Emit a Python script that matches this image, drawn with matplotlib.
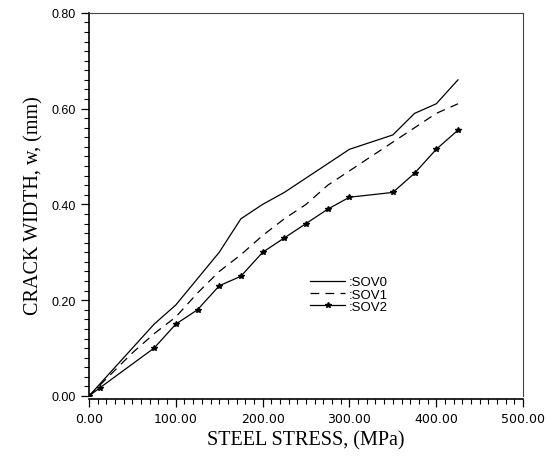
import matplotlib
matplotlib.use("Agg")
import matplotlib.pyplot as plt
from matplotlib.ticker import MultipleLocator, FormatStrFormatter

sov0_x = [0, 25, 50, 75, 100, 125, 150, 175, 200, 225, 250, 275, 300, 350, 375, 400, 425]
sov0_y = [0, 0.05, 0.10, 0.15, 0.19, 0.245, 0.30, 0.37, 0.40, 0.425, 0.455, 0.485, 0.515, 0.545, 0.59, 0.61, 0.66]
sov1_x = [0, 25, 50, 75, 100, 125, 150, 175, 200, 225, 250, 275, 300, 350, 375, 400, 425]
sov1_y = [0, 0.045, 0.09, 0.13, 0.165, 0.215, 0.26, 0.295, 0.335, 0.37, 0.40, 0.44, 0.47, 0.53, 0.56, 0.59, 0.61]
sov2_x = [0, 12.5, 75, 100, 125, 150, 175, 200, 225, 250, 275, 300, 350, 375, 400, 425]
sov2_y = [0, 0.017, 0.10, 0.15, 0.18, 0.23, 0.25, 0.30, 0.33, 0.36, 0.39, 0.415, 0.425, 0.465, 0.515, 0.555]
labels = [":SOV0", ":SOV1", ":SOV2"]

fig = plt.figure(figsize=(5.46, 4.60), dpi=100)
ax = fig.add_axes([0.163, 0.137, 0.795, 0.833])

ax.plot(sov0_x, sov0_y, color="black", lw=0.9, label=labels[0])
ax.plot(sov1_x, sov1_y, color="black", lw=0.9, dashes=(7, 5), label=labels[1])
ax.plot(sov2_x, sov2_y, color="black", lw=0.9, marker="*", ms=4, label=labels[2])

ax.set_xlim(0, 500)
ax.set_ylim(0, 0.80)
ax.xaxis.set_major_locator(MultipleLocator(100))
ax.xaxis.set_minor_locator(MultipleLocator(10))
ax.yaxis.set_major_locator(MultipleLocator(0.2))
ax.yaxis.set_minor_locator(MultipleLocator(0.02))
ax.xaxis.set_major_formatter(FormatStrFormatter("%.2f"))
ax.yaxis.set_major_formatter(FormatStrFormatter("%.2f"))
ax.tick_params(axis="both", which="major", direction="out", length=6, width=0.9, labelsize=9, colors="black")
ax.tick_params(axis="both", which="minor", direction="out", length=3.5, width=0.8)
ax.tick_params(top=False, right=False)
for lab in ax.get_xticklabels() + ax.get_yticklabels():
    lab.set_family("Liberation Sans")

for s in ["left", "bottom"]:
    ax.spines[s].set_linewidth(1.2)
ax.spines["bottom"].set_position(("outward", 2))
for s in ["top", "right"]:
    ax.spines[s].set_linewidth(0.8)
    ax.spines[s].set_color("#444444")

ax.set_xlabel("STEEL STRESS, (MPa)", family="Liberation Serif", fontsize=14.5, labelpad=4)
ax.set_ylabel("CRACK WIDTH, w, (mm)", family="Liberation Serif", fontsize=14.5, labelpad=6)

leg = ax.legend(loc="upper left", bbox_to_anchor=(0.495, 0.33), frameon=False,
                prop={"family": "Liberation Sans", "size": 9.5},
                handlelength=2.6, handletextpad=0.3, labelspacing=0.0,
                borderpad=0.0)

fig.savefig("out.png", dpi=100)
